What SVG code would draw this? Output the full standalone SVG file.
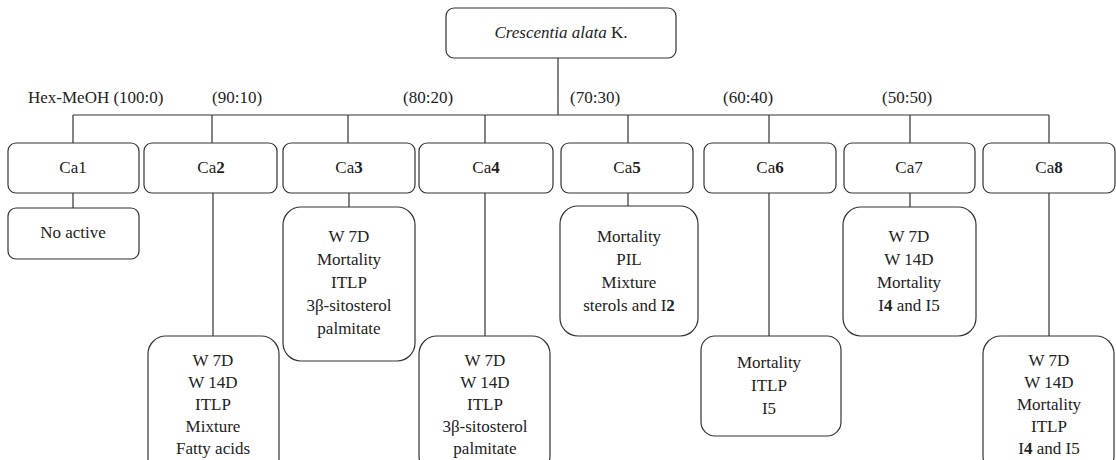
<svg xmlns="http://www.w3.org/2000/svg" width="1116" height="460" viewBox="0 0 1116 460">
<style>
text{font-family:'Liberation Serif',Tinos,'Nimbus Roman','Nimbus Roman No9 L','Noto Serif',FreeSerif,'DejaVu Serif',Times,serif;font-size:17px;fill:#222;text-anchor:middle}
.lbl{text-anchor:start}
.box{fill:#fff;stroke:#333;stroke-width:1.2}
.con{fill:none;stroke:#333;stroke-width:1.2}
.b{font-weight:bold}
</style>
<rect width="1116" height="460" fill="#fff"/>
<g id="connectors" class="con">
<path d="M558 58V115M73 115H1049"/>
<path d="M73 115V143M212 115V143M348 115V143M485 115V143M628 115V143M769 115V143M910 115V143M1049 115V143"/>
<path d="M73 193V208M213 193V336M349 193V207M485 193V336M628 193V206M769 193V336M910 193V207M1049 193V336"/>
</g>
<g id="labels" font-family="Liberation Serif, serif">
<text class="lbl" x="28" y="103">Hex-MeOH (100:0)</text>
<text class="lbl" x="212" y="103">(90:10)</text>
<text class="lbl" x="403" y="103">(80:20)</text>
<text class="lbl" x="570" y="103">(70:30)</text>
<text class="lbl" x="723" y="103">(60:40)</text>
<text class="lbl" x="882" y="103">(50:50)</text>
</g>
<g id="root"><rect class="box" x="446" y="8" width="230" height="50" rx="8"/><text x="561" y="38"><tspan font-style="italic">Crescentia alata</tspan> K.</text></g>
<g id="ca1"><rect class="box" x="8" y="143" width="131" height="50" rx="8"/><text x="73" y="173">Ca1</text></g>
<g id="ca2"><rect class="box" x="144" y="143" width="133" height="50" rx="8"/><text x="211" y="173">Ca<tspan class="b">2</tspan></text></g>
<g id="ca3"><rect class="box" x="283" y="143" width="132" height="50" rx="8"/><text x="349" y="173">Ca<tspan class="b">3</tspan></text></g>
<g id="ca4"><rect class="box" x="419" y="143" width="134" height="50" rx="8"/><text x="486" y="173">Ca<tspan class="b">4</tspan></text></g>
<g id="ca5"><rect class="box" x="561" y="143" width="132" height="50" rx="8"/><text x="627" y="173">Ca<tspan class="b">5</tspan></text></g>
<g id="ca6"><rect class="box" x="704" y="143" width="132" height="50" rx="8"/><text x="770" y="173">Ca<tspan class="b">6</tspan></text></g>
<g id="ca7"><rect class="box" x="844" y="143" width="131" height="50" rx="8"/><text x="909" y="173">Ca7</text></g>
<g id="ca8"><rect class="box" x="983" y="143" width="132" height="50" rx="8"/><text x="1049" y="173">Ca<tspan class="b">8</tspan></text></g>
<g id="r1"><rect class="box" x="8" y="208" width="131" height="51" rx="8"/><text x="73" y="238">No active</text></g>
<g id="r2"><rect class="box" x="148" y="336" width="131" height="143" rx="18"/><text x="213" y="366"><tspan x="213">W 7D</tspan><tspan x="213" dy="22">W 14D</tspan><tspan x="213" dy="22">ITLP</tspan><tspan x="213" dy="22">Mixture</tspan><tspan x="213" dy="22">Fatty acids</tspan></text></g>
<g id="r3"><rect class="box" x="283" y="207" width="132" height="154" rx="18"/><text x="349" y="242"><tspan x="349">W 7D</tspan><tspan x="349" dy="23">Mortality</tspan><tspan x="349" dy="23">ITLP</tspan><tspan x="349" dy="23">3β-sitosterol</tspan><tspan x="349" dy="23">palmitate</tspan></text></g>
<g id="r4"><rect class="box" x="419" y="336" width="131" height="138" rx="18"/><text x="485" y="366"><tspan x="485">W 7D</tspan><tspan x="485" dy="22">W 14D</tspan><tspan x="485" dy="22">ITLP</tspan><tspan x="485" dy="22">3β-sitosterol</tspan><tspan x="485" dy="22">palmitate</tspan></text></g>
<g id="r5"><rect class="box" x="560" y="206" width="138" height="130" rx="18"/><text x="629" y="242"><tspan x="629">Mortality</tspan><tspan x="629" dy="23">PIL</tspan><tspan x="629" dy="23">Mixture</tspan><tspan x="629" dy="23">sterols and I<tspan class="b">2</tspan></tspan></text></g>
<g id="r6"><rect class="box" x="701" y="336" width="140" height="100" rx="14"/><text x="769" y="368"><tspan x="769">Mortality</tspan><tspan x="769" dy="23">ITLP</tspan><tspan x="769" dy="23">I5</tspan></text></g>
<g id="r7"><rect class="box" x="843" y="207" width="133" height="129" rx="18"/><text x="909" y="242"><tspan x="909">W 7D</tspan><tspan x="909" dy="23">W 14D</tspan><tspan x="909" dy="23">Mortality</tspan><tspan x="909" dy="23">I<tspan class="b">4</tspan> and I5</tspan></text></g>
<g id="r8"><rect class="box" x="983" y="336" width="131" height="138" rx="18"/><text x="1049" y="366"><tspan x="1049">W 7D</tspan><tspan x="1049" dy="22">W 14D</tspan><tspan x="1049" dy="22">Mortality</tspan><tspan x="1049" dy="22">ITLP</tspan><tspan x="1049" dy="22">I<tspan class="b">4</tspan> and I5</tspan></text></g>
</svg>
